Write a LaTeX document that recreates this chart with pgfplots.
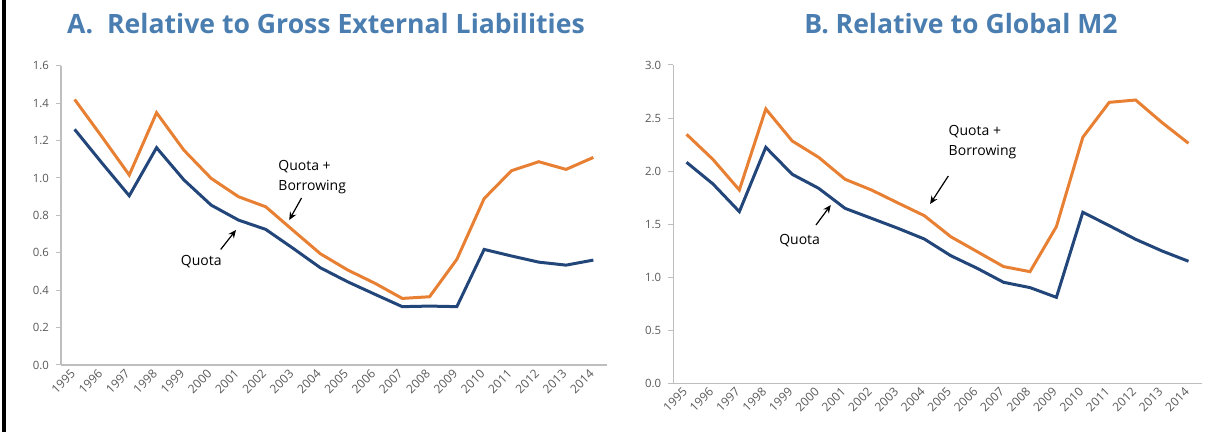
\documentclass[border=0pt]{standalone}
\usepackage{fontspec}
\setmainfont{Open Sans}
\usepackage{pgfplots}
\pgfplotsset{compat=1.18}
\usetikzlibrary{arrows.meta}

\definecolor{titleblue}{RGB}{74,125,176}
\definecolor{quotablue}{RGB}{35,70,122}
\definecolor{borrow}{RGB}{232,128,52}
\definecolor{axgray}{RGB}{190,190,190}
\definecolor{lblgray}{RGB}{89,89,89}

\tikzset{
  note/.style={font=\fontsize{7}{10}\selectfont, text=black, inner sep=0pt},
  arr/.style={-{Stealth[length=4pt,width=3.5pt]}, line width=0.6pt, black},
}

\pgfplotsset{
  panel/.style={
    scale only axis,
    anchor=south west,
    axis x line*=bottom,
    axis y line*=left,
    axis line style={draw=axgray, line width=0.6pt, -},
    tick align=outside,
    major tick length=2.5pt,
    tick style={draw=axgray, line width=0.5pt},
    xmin=-0.5, xmax=19.5,
    xtick={0,...,19},
    xticklabels={1995,1996,1997,1998,1999,2000,2001,2002,2003,2004,
                 2005,2006,2007,2008,2009,2010,2011,2012,2013,2014},
    major x tick style={draw=none},
    extra x ticks={-0.5,0.5,...,19.5},
    extra x tick labels={},
    extra x tick style={major tick length=2.5pt, tick style={draw=axgray}},
    xticklabel style={rotate=45, anchor=east, font=\fontsize{6}{6}\selectfont,
                      text=lblgray, inner sep=1pt},
    yticklabel style={font=\fontsize{5.7}{6}\selectfont, text=lblgray,
                      /pgf/number format/fixed,
                      /pgf/number format/fixed zerofill,
                      /pgf/number format/precision=1,
                      /pgf/number format/assume math mode=true},
    clip=false,
  },
  quota/.style={color=quotablue, line width=1.5pt, no marks},
  qb/.style={color=borrow, line width=1.5pt, no marks},
}

\begin{document}
\begin{tikzpicture}[x=1pt,y=1pt]
\useasboundingbox (0,0) rectangle (612.5,216);
\fill[black] (1,0) rectangle (2.8,216);

\node[anchor=base, font=\fontsize{13.3}{16}\selectfont\bfseries, text=titleblue]
  at (163,199.2) {A.\hspace{7pt}Relative to Gross External Liabilities};
\node[anchor=base, font=\fontsize{13.3}{16}\selectfont\bfseries, text=titleblue]
  at (480.5,199.2) {B. Relative to Global M2};

% Panel A
\begin{axis}[panel,
  at={(30.5pt,33.5pt)},
  width=273pt, height=149.6pt,
  ymin=0, ymax=1.6,
  ytick={0,0.2,0.4,0.6,0.8,1.0,1.2,1.4,1.6},
]
\addplot[qb] coordinates {
  (0,1.42) (1,1.22) (2,1.016) (3,1.349) (4,1.149) (5,0.998) (6,0.90) (7,0.846)
  (8,0.72) (9,0.595) (10,0.508) (11,0.437) (12,0.356) (13,0.365) (14,0.565)
  (15,0.89) (16,1.039) (17,1.087) (18,1.046) (19,1.11)};
\addplot[quota] coordinates {
  (0,1.26) (1,1.08) (2,0.905) (3,1.162) (4,0.99) (5,0.855) (6,0.775) (7,0.725)
  (8,0.624) (9,0.52) (10,0.445) (11,0.378) (12,0.312) (13,0.315) (14,0.312)
  (15,0.618) (16,0.583) (17,0.55) (18,0.534) (19,0.561)};
\node[note, anchor=west, align=left] at (axis cs:7.45,1.005) {Quota +\\Borrowing};
\draw[arr] (axis cs:8.31,0.893) -- (axis cs:7.86,0.775);
\node[note] at (axis cs:4.64,0.552) {Quota};
\draw[arr] (axis cs:5.35,0.618) -- (axis cs:5.91,0.722);
\end{axis}

% Panel B
\begin{axis}[panel,
  at={(336.65pt,24.35pt)},
  width=264.2pt, height=159.15pt,
  ymin=0, ymax=3,
  ytick={0,0.5,1.0,1.5,2.0,2.5,3.0},
]
\addplot[qb] coordinates {
  (0,2.347) (1,2.11) (2,1.822) (3,2.586) (4,2.284) (5,2.13) (6,1.923) (7,1.822)
  (8,1.70) (9,1.58) (10,1.382) (11,1.241) (12,1.10) (13,1.052) (14,1.477)
  (15,2.319) (16,2.648) (17,2.67) (18,2.457) (19,2.262)};
\addplot[quota] coordinates {
  (0,2.083) (1,1.879) (2,1.618) (3,2.224) (4,1.97) (5,1.838) (6,1.649) (7,1.555)
  (8,1.461) (9,1.36) (10,1.203) (11,1.084) (12,0.952) (13,0.902) (14,0.81)
  (15,1.612) (16,1.486) (17,1.357) (18,1.247) (19,1.15)};
\node[note, anchor=west, align=left] at (axis cs:9.91,2.27) {Quota +\\Borrowing};
\draw[arr] (axis cs:9.91,1.954) -- (axis cs:9.22,1.69);
\node[note] at (axis cs:4.28,1.344) {Quota};
\draw[arr] (axis cs:4.90,1.492) -- (axis cs:5.46,1.68);
\end{axis}
\end{tikzpicture}
\end{document}
